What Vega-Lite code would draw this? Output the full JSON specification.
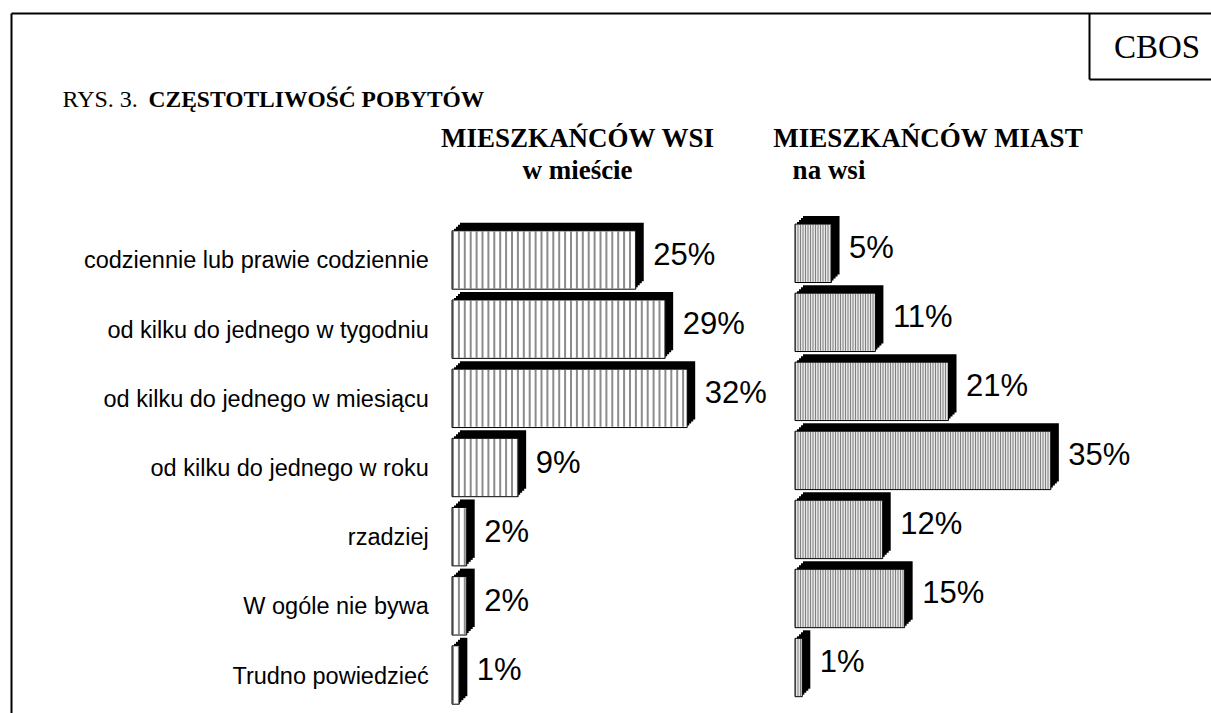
{
  "$schema": "https://vega.github.io/schema/vega-lite/v6.json",
  "width": 1200,
  "height": 700,
  "autosize": {"type": "none"},
  "padding": {"left": 11, "top": 13, "right": 0, "bottom": 0},
  "background": "white",
  "config": {
    "view": {"stroke": null},
    "axis": {"grid": false, "ticks": false, "labels": false, "domain": false, "titlePadding": 0, "titleColor": "black", "labelColor": "black", "domainColor": "black", "titleFont": "Liberation Serif"}
  },
  "datasets": {
    "d": [
      {"kat": "codziennie lub prawie codziennie", "wsi": 0.25, "miast": 0.05},
      {"kat": "od kilku do jednego w tygodniu", "wsi": 0.29, "miast": 0.11},
      {"kat": "od kilku do jednego w miesiącu", "wsi": 0.32, "miast": 0.21},
      {"kat": "od kilku do jednego w roku", "wsi": 0.09, "miast": 0.35},
      {"kat": "rzadziej", "wsi": 0.02, "miast": 0.12},
      {"kat": "W ogóle nie bywa", "wsi": 0.02, "miast": 0.15},
      {"kat": "Trudno powiedzieć", "wsi": 0.01, "miast": 0.01}
    ]
  },
  "data": {"name": "d"},
  "resolve": {"scale": {"x": "independent", "y": "independent"}, "axis": {"x": "independent", "y": "independent"}},
  "layer": [
    {
      "mark": {"type": "point", "opacity": 0},
      "encoding": {
        "x": {"datum": 0, "type": "quantitative", "scale": {"domain": [0, 1], "range": [0, 1200]},
          "axis": {"orient": "top", "domain": true, "domainWidth": 2, "title": "CZĘSTOTLIWOŚĆ POBYTÓW", "titleFontSize": 23.5, "titleFontWeight": "bold", "titleX": 137, "titleY": 93, "titleAlign": "left", "titleBaseline": "alphabetic"}},
        "y": {"datum": 0, "type": "quantitative", "scale": {"domain": [0, 1], "range": [0, 700]},
          "axis": {"orient": "left", "domain": true, "domainWidth": 2, "title": "RYS. 3.", "titleFontSize": 24, "titleFontWeight": "normal", "titleAngle": 0, "titleX": 51, "titleY": 93, "titleAlign": "left", "titleBaseline": "alphabetic"}}
      }
    },
    {
      "mark": {"type": "point", "opacity": 0},
      "encoding": {
        "x": {"datum": 0, "type": "quantitative", "scale": {"domain": [0, 1], "range": [1078, 1200]},
          "axis": {"orient": "bottom", "offset": -634, "domain": true, "domainWidth": 2, "title": null}},
        "y": {"datum": 0, "type": "quantitative", "scale": {"domain": [0, 1], "range": [0, 66]},
          "axis": {"orient": "left", "offset": -1078, "domain": true, "domainWidth": 2, "title": "CBOS", "titleAngle": 0, "titleX": 67.5, "titleY": 44, "titleAlign": "center", "titleBaseline": "alphabetic", "titleFontSize": 33, "titleFontWeight": "normal"}}
      }
    },
    {
      "encoding": {
        "y": {"field": "kat", "type": "nominal", "sort": null,
          "scale": {"type": "band", "range": [217.8, 691.2], "paddingInner": 0.1557, "paddingOuter": 0},
          "axis": {"orient": "left", "offset": -441, "labels": true, "labelFont": "Liberation Sans", "labelFontSize": 23.5, "labelLimit": 600, "labelPadding": 23.7, "labelBaseline": "alphabetic", "labelOffset": 8.5, "title": null}},
        "x": {"field": "wsi", "type": "quantitative",
          "scale": {"domain": [0, 1], "range": [441, 1176]},
          "axis": {"orient": "top", "title": ["MIESZKAŃCÓW WSI", "w mieście"], "titleFontSize": 27, "titleFontWeight": "bold", "titleX": 566, "titleY": 133, "titleAlign": "center", "titleBaseline": "alphabetic", "titleLineHeight": 32}}
      },
      "layer": [
        {"mark": {"type": "bar", "color": "black", "xOffset": 2, "x2Offset": 2, "yOffset": -2}},
        {"mark": {"type": "bar", "color": "black", "xOffset": 4, "x2Offset": 4, "yOffset": -4}},
        {"mark": {"type": "bar", "color": "black", "xOffset": 6, "x2Offset": 6, "yOffset": -6}},
        {"mark": {"type": "bar", "color": "black", "xOffset": 8, "x2Offset": 8, "yOffset": -8}},
        {"mark": {"type": "bar", "fill": "white"}},
        {"mark": {"type": "rule", "color": "#8c8c8c", "strokeWidth": 57, "strokeDash": [2, 3.9], "strokeCap": "butt"},
          "encoding": {"x": {"datum": 0, "type": "quantitative"}, "x2": {"field": "wsi"}}},
        {"mark": {"type": "bar", "fillOpacity": 0, "stroke": "black", "strokeWidth": 1}},
        {"mark": {"type": "text", "align": "left", "baseline": "alphabetic", "dx": 17.5, "dy": 5, "font": "Liberation Sans", "fontSize": 31, "color": "black"},
          "encoding": {"text": {"field": "wsi", "format": ".0%"}}}
      ]
    },
    {
      "encoding": {
        "y": {"field": "kat", "type": "nominal", "sort": null,
          "scale": {"type": "band", "range": [211.1, 683.7], "paddingInner": 0.154, "paddingOuter": 0},
          "axis": {"orient": "right", "title": "na wsi", "titleAngle": 0, "titleX": -382.5, "titleY": 165, "titleAlign": "center", "titleBaseline": "alphabetic", "titleFontSize": 27, "titleFontWeight": "bold"}},
        "x": {"field": "miast", "type": "quantitative",
          "scale": {"domain": [0, 1], "range": [784, 1515]},
          "axis": {"orient": "top", "title": "MIESZKAŃCÓW MIAST", "titleFontSize": 27, "titleFontWeight": "bold", "titleX": 916.5, "titleY": 133, "titleAlign": "center", "titleBaseline": "alphabetic"}}
      },
      "layer": [
        {"mark": {"type": "bar", "color": "black", "xOffset": 2, "x2Offset": 2, "yOffset": -2}},
        {"mark": {"type": "bar", "color": "black", "xOffset": 4, "x2Offset": 4, "yOffset": -4}},
        {"mark": {"type": "bar", "color": "black", "xOffset": 6, "x2Offset": 6, "yOffset": -6}},
        {"mark": {"type": "bar", "color": "black", "xOffset": 8, "x2Offset": 8, "yOffset": -8}},
        {"mark": {"type": "bar", "fill": "#e6e6e6"}},
        {"mark": {"type": "rule", "color": "#808080", "strokeWidth": 57, "strokeDash": [1, 1.5], "strokeCap": "butt"},
          "encoding": {"x": {"datum": 0, "type": "quantitative"}, "x2": {"field": "miast"}}},
        {"mark": {"type": "bar", "fillOpacity": 0, "stroke": "black", "strokeWidth": 1}},
        {"mark": {"type": "text", "align": "left", "baseline": "alphabetic", "dx": 17.5, "dy": 5, "font": "Liberation Sans", "fontSize": 31, "color": "black"},
          "encoding": {"text": {"field": "miast", "format": ".0%"}}}
      ]
    }
  ]
}
